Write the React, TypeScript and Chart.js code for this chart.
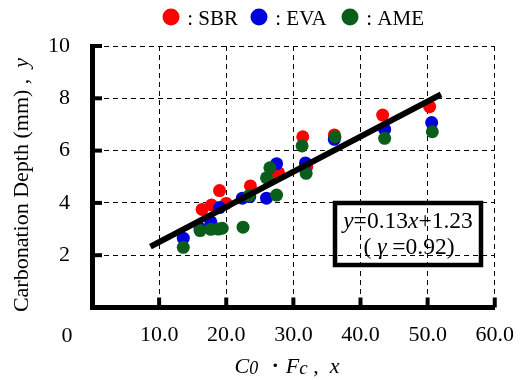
import React, { useEffect, useRef } from "react";
import { Chart, registerables } from "chart.js";

Chart.register(...registerables);

// ---- data ----
const sbrX = [16.4, 17.8, 19.0, 20.0, 23.6, 26.7, 27.8, 31.4, 32.0, 36.1, 43.3, 50.3];
const sbrY = [3.75, 3.92, 4.47, 3.98, 4.65, 5.07, 5.15, 6.53, 5.38, 6.6, 7.36, 7.68];

const evaX = [13.6, 16.1, 17.7, 19.0, 22.4, 23.5, 26.0, 27.5, 31.8, 36.1, 43.6, 50.6];
const evaY = [2.65, 3.03, 3.28, 3.82, 4.18, 4.24, 4.18, 5.5, 5.53, 6.43, 6.81, 7.07];

const ameX = [13.6, 16.1, 17.7, 18.8, 19.4, 22.5, 23.4, 26.0, 26.5, 27.5, 31.3, 31.9, 36.2, 43.6, 50.7];
const ameY = [2.3, 2.94, 2.99, 3.0, 3.03, 3.07, 4.27, 4.96, 5.34, 4.3, 6.18, 5.13, 6.53, 6.47, 6.72];

const fitX = [8.7, 52.0];
const fitY = [2.33, 8.15];

const seriesNames = ["SBR", "EVA", "AME"];
const seriesColors = ["#ff0000", "#0000dd", "#0a5e1a"];

const xTicks = [0, 10, 20, 30, 40, 50, 60];
const yTicks = [0, 2, 4, 6, 8, 10];

const eqLine1 = ["y", "=0.13", "x", "+1.23"];
const eqLine2 = ["( ", "γ", " =0.92)"];

const SERIF = "'Liberation Serif', 'Times New Roman', serif";

const pts = (xs: number[], ys: number[]) => xs.map((x, i) => ({ x, y: ys[i] }));

function drawRuns(ctx: CanvasRenderingContext2D, runs: { t: string; font: string; dy?: number }[], cx: number, baseY: number) {
  let total = 0;
  for (const r of runs) {
    ctx.font = r.font;
    total += ctx.measureText(r.t).width;
  }
  let x = cx - total / 2;
  ctx.textAlign = "left";
  ctx.textBaseline = "alphabetic";
  for (const r of runs) {
    ctx.font = r.font;
    ctx.fillText(r.t, x, baseY + (r.dy || 0));
    x += ctx.measureText(r.t).width;
  }
}

const decorPlugin = {
  id: "decor",
  afterDraw(chart: any) {
    const ctx: CanvasRenderingContext2D = chart.ctx;
    const xs = chart.scales.x;
    const ys = chart.scales.y;
    const area = chart.chartArea;
    ctx.save();
    ctx.fillStyle = "#000";
    ctx.strokeStyle = "#000";

    // inward tick marks
    ctx.lineWidth = 4;
    for (const v of yTicks) {
      if (v === 0) continue;
      const py = ys.getPixelForValue(v);
      ctx.beginPath();
      ctx.moveTo(area.left, py);
      ctx.lineTo(area.left + 10, py);
      ctx.stroke();
    }
    for (const v of xTicks) {
      if (v === 0) continue;
      const px = xs.getPixelForValue(v);
      ctx.beginPath();
      ctx.moveTo(px, area.bottom);
      ctx.lineTo(px, area.bottom - 10);
      ctx.stroke();
    }

    // origin label "0"
    ctx.font = `22px ${SERIF}`;
    ctx.textAlign = "center";
    ctx.textBaseline = "middle";
    ctx.fillText("0", area.left - 25, area.bottom + 29);

    // x-axis title
    drawRuns(
      ctx,
      [
        { t: "C", font: `italic 22px ${SERIF}` },
        { t: "0", font: `italic 18px ${SERIF}`, dy: 1 },
        { t: " ・", font: `22px ${SERIF}` },
        { t: "F", font: `italic 22px ${SERIF}` },
        { t: "c", font: `italic 19px ${SERIF}`, dy: 1 },
        { t: " ,  ", font: `22px ${SERIF}` },
        { t: "x", font: `italic 22px ${SERIF}` },
      ],
      287,
      373
    );

    // y-axis title (rotated)
    ctx.save();
    ctx.translate(28, 185);
    ctx.rotate(-Math.PI / 2);
    drawRuns(
      ctx,
      [
        { t: "Carbonation Depth (mm) ,  ", font: `22px ${SERIF}` },
        { t: "y", font: `italic 22px ${SERIF}` },
      ],
      0,
      0
    );
    ctx.restore();

    // legend
    const legendX = [171, 259, 350];
    for (let i = 0; i < 3; i++) {
      ctx.fillStyle = seriesColors[i];
      ctx.beginPath();
      ctx.arc(legendX[i], 17, 8.5, 0, Math.PI * 2);
      ctx.fill();
      ctx.fillStyle = "#000";
      ctx.font = `21px ${SERIF}`;
      ctx.textAlign = "left";
      ctx.textBaseline = "alphabetic";
      ctx.fillText(" : " + seriesNames[i], legendX[i] + 11, 25);
    }

    // equation box
    ctx.lineWidth = 4.5;
    ctx.strokeRect(335, 203, 146, 62);
    drawRuns(
      ctx,
      [
        { t: eqLine1[0], font: `italic 23.5px ${SERIF}` },
        { t: eqLine1[1], font: `23.5px ${SERIF}` },
        { t: eqLine1[2], font: `italic 23.5px ${SERIF}` },
        { t: eqLine1[3], font: `23.5px ${SERIF}` },
      ],
      408,
      228
    );
    drawRuns(
      ctx,
      [
        { t: eqLine2[0], font: `23.5px ${SERIF}` },
        { t: eqLine2[1], font: `italic 23.5px ${SERIF}` },
        { t: eqLine2[2], font: `23.5px ${SERIF}` },
      ],
      409,
      254
    );
    ctx.restore();
  },
};

export default function App() {
  const canvasRef = useRef<HTMLCanvasElement | null>(null);

  useEffect(() => {
    document.body.style.margin = "0";
    const canvas = canvasRef.current;
    if (!canvas) return;
    const scatterDs = (i: number, xs: number[], ys: number[], order: number) => ({
      type: "scatter" as const,
      label: seriesNames[i],
      data: pts(xs, ys),
      backgroundColor: seriesColors[i],
      borderColor: seriesColors[i],
      borderWidth: 0,
      pointRadius: 6.5,
      order,
    });
    const chart = new Chart(canvas, {
      type: "scatter",
      data: {
        datasets: [
          {
            type: "line",
            label: "fit",
            data: pts(fitX, fitY),
            borderColor: "#000",
            borderWidth: 6,
            borderCapStyle: "butt",
            pointRadius: 0,
            showLine: true,
            fill: false,
            order: -1,
          } as any,
          scatterDs(0, sbrX, sbrY, 3),
          scatterDs(1, evaX, evaY, 2),
          scatterDs(2, ameX, ameY, 1),
        ],
      },
      plugins: [decorPlugin],
      options: {
        responsive: false,
        animation: false,
        events: [],
        layout: { padding: { top: 46, right: 24, left: 0, bottom: 0 } },
        plugins: {
          legend: { display: false },
          tooltip: { enabled: false },
          title: { display: false },
        },
        scales: {
          x: {
            type: "linear",
            min: 0,
            max: 60,
            afterBuildTicks: (scale: any) => {
              scale.ticks = xTicks.map((v) => ({ value: v }));
            },
            afterFit: (scale: any) => {
              scale.height = 72.5;
            },
            ticks: {
              callback: (v: any) => (Number(v) === 0 ? "" : Number(v).toFixed(1)),
              font: { family: SERIF, size: 22 },
              color: "#000",
              padding: 15,
              maxRotation: 0,
              autoSkip: false,
            },
            grid: { color: "#000", lineWidth: 1, drawTicks: false },
            border: { display: true, color: "#000", width: 5, dash: [5, 4] },
          },
          y: {
            type: "linear",
            min: 0,
            max: 10,
            afterBuildTicks: (scale: any) => {
              scale.ticks = yTicks.map((v) => ({ value: v }));
            },
            afterFit: (scale: any) => {
              scale.width = 92;
            },
            ticks: {
              callback: (v: any) => (Number(v) === 0 ? "" : String(v)),
              font: { family: SERIF, size: 22 },
              color: "#000",
              padding: 22,
              autoSkip: false,
            },
            grid: { color: "#000", lineWidth: 1, drawTicks: false },
            border: { display: true, color: "#000", width: 5, dash: [5, 4] },
          },
        },
      } as any,
    });
    return () => chart.destroy();
  }, []);

  return (
    <div style={{ width: 529, height: 380 }}>
      <canvas ref={canvasRef} width={529} height={380} />
    </div>
  );
}
